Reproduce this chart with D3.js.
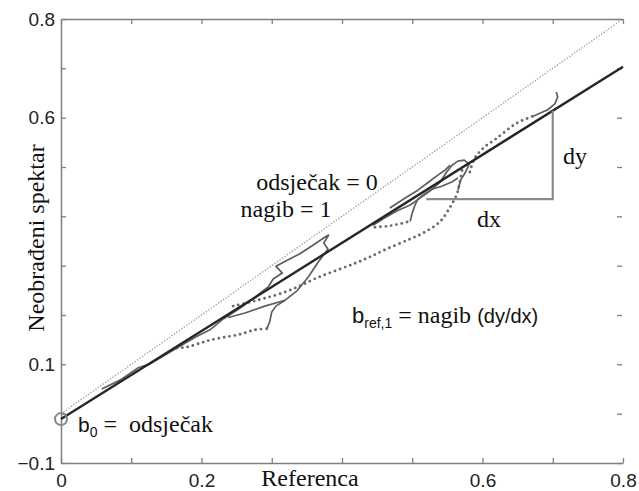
<!DOCTYPE html>
<html>
<head>
<meta charset="utf-8">
<script src="https://cdn.jsdelivr.net/npm/d3@7"></script>
<style>
  body { margin: 0; background: #fff; }
  svg { display: block; }
</style>
</head>
<body>
<div id="chart"></div>
<script>
const W = 639, H = 491;

// regression fit shown on the plot
const fitIntercept = -0.011;
const fitSlope = 0.893;

const xTickValues = [0, 0.1, 0.2, 0.3, 0.4, 0.5, 0.6, 0.7, 0.8];
const xLabelValues = [0, 0.2, 0.6, 0.8];
const yTickValues = [-0.1, 0, 0.1, 0.2, 0.3, 0.4, 0.5, 0.6, 0.7, 0.8];
const yLabelValues = [-0.1, 0.1, 0.6, 0.8];

// raw spectrum vs reference, solid pieces
const solidLower = [[0.058,0.050],[0.084,0.068],[0.110,0.093],[0.127,0.101],[0.148,0.119],[0.165,0.133],[0.191,0.155],[0.212,0.170],[0.231,0.192]];
const solidLoop = [[0.231,0.192],[0.255,0.214],[0.276,0.236],[0.295,0.257],[0.302,0.273],[0.315,0.285],[0.306,0.299],[0.322,0.311],[0.340,0.324],[0.357,0.340],[0.376,0.358],[0.381,0.362],[0.374,0.346],[0.380,0.334],[0.366,0.307],[0.352,0.277],[0.336,0.249],[0.319,0.230],[0.290,0.218],[0.262,0.204],[0.238,0.195]];
const solidTail = [[0.319,0.230],[0.306,0.218],[0.300,0.206],[0.297,0.186],[0.293,0.172]];
const solidUpperA = [[0.444,0.382],[0.461,0.397],[0.478,0.411],[0.497,0.423],[0.511,0.437],[0.525,0.451],[0.540,0.470],[0.549,0.490],[0.557,0.504],[0.565,0.512],[0.574,0.514],[0.581,0.506],[0.576,0.490],[0.569,0.474],[0.565,0.453]];
const solidUpperB = [[0.497,0.390],[0.500,0.407],[0.504,0.423],[0.508,0.435],[0.517,0.445],[0.528,0.455],[0.542,0.461],[0.557,0.470],[0.565,0.478]];
const solidUpperC = [[0.468,0.417],[0.490,0.437],[0.508,0.453],[0.522,0.468],[0.535,0.482],[0.547,0.494],[0.554,0.504]];
const solidEnd = [[0.672,0.603],[0.693,0.616],[0.703,0.628],[0.707,0.642],[0.705,0.652]];

// dotted pieces
const dottedLower = [[0.165,0.133],[0.179,0.135],[0.198,0.143],[0.212,0.149],[0.233,0.155],[0.255,0.161],[0.276,0.170],[0.293,0.172]];
const dottedMid = [[0.245,0.218],[0.269,0.226],[0.290,0.234],[0.316,0.245],[0.340,0.259],[0.364,0.275],[0.393,0.291],[0.419,0.305],[0.440,0.318],[0.464,0.334],[0.497,0.354],[0.518,0.368],[0.540,0.390],[0.554,0.419],[0.564,0.447],[0.568,0.472],[0.571,0.494]];
const dottedShort = [[0.447,0.378],[0.464,0.380],[0.480,0.384],[0.497,0.390]];
const dottedUpper = [[0.582,0.490],[0.589,0.518],[0.601,0.538],[0.621,0.559],[0.649,0.589],[0.672,0.603]];

const svg = d3.select("#chart").append("svg")
  .attr("width", W).attr("height", H);

const x = d3.scaleLinear().domain([0, 0.8]).range([61, 623]);
const y = d3.scaleLinear().domain([-0.1, 0.8]).range([463, 19]);

const axisCol = "#808080";
const fmt = d3.format("~g");
const hasLabel = (list, d) => list.some(v => Math.abs(v - d) < 1e-9);

function styleAxis(g) {
  g.selectAll("path.domain").attr("stroke", axisCol).attr("stroke-width", 1.5);
  g.selectAll(".tick line").attr("stroke", axisCol).attr("stroke-width", 1.3);
  g.selectAll(".tick text")
    .attr("fill", "#222")
    .attr("font-family", "'Liberation Sans', Arial, sans-serif")
    .attr("font-size", 19);
}

svg.append("g")
  .attr("transform", `translate(0,${y(-0.1)})`)
  .call(d3.axisBottom(x).tickValues(xTickValues).tickSizeInner(-5).tickSizeOuter(0).tickPadding(11)
    .tickFormat(d => hasLabel(xLabelValues, d) ? fmt(d) : ""))
  .call(styleAxis);

svg.append("g")
  .attr("transform", `translate(0,${y(0.8)})`)
  .call(d3.axisTop(x).tickValues(xTickValues).tickSizeInner(-5).tickSizeOuter(0).tickFormat(""))
  .call(styleAxis);

svg.append("g")
  .attr("transform", `translate(${x(0)},0)`)
  .call(d3.axisLeft(y).tickValues(yTickValues).tickSizeInner(-5).tickSizeOuter(0).tickPadding(6)
    .tickFormat(d => hasLabel(yLabelValues, d) ? fmt(d) : ""))
  .call(styleAxis);

const right = svg.append("g")
  .attr("transform", `translate(${x(0.8) - 1},0)`)
  .call(d3.axisRight(y).tickValues(yTickValues).tickSizeInner(-5).tickSizeOuter(0).tickFormat(""))
  .call(styleAxis);
right.select("path.domain").remove();

// y = x reference line
svg.append("line")
  .attr("x1", x(0)).attr("y1", y(0))
  .attr("x2", x(0.8)).attr("y2", y(0.8))
  .attr("stroke", "#999")
  .attr("stroke-width", 1.3)
  .attr("stroke-dasharray", "1.3,1.7");

const line = d3.line().x(d => x(d[0])).y(d => y(d[1]));
const smooth = d3.line().x(d => x(d[0])).y(d => y(d[1])).curve(d3.curveCatmullRom);

[dottedLower, dottedMid, dottedShort, dottedUpper].forEach(seg => {
  svg.append("path")
    .attr("d", smooth(seg))
    .attr("fill", "none")
    .attr("stroke", "#6a6a6a")
    .attr("stroke-width", 2.9)
    .attr("stroke-linecap", "round")
    .attr("stroke-dasharray", "0,5.4");
});

[solidLower, solidLoop, solidTail, solidUpperA, solidUpperB, solidUpperC, solidEnd].forEach(seg => {
  svg.append("path")
    .attr("d", line(seg))
    .attr("fill", "none")
    .attr("stroke", "#5e5e5e")
    .attr("stroke-width", 1.7)
    .attr("stroke-linejoin", "round");
});

// fitted line
svg.append("line")
  .attr("x1", x(0)).attr("y1", y(fitIntercept))
  .attr("x2", x(0.8)).attr("y2", y(fitIntercept + fitSlope * 0.8))
  .attr("stroke", "#262626")
  .attr("stroke-width", 2.4);

// slope triangle
const triY = 0.435, triX0 = 0.52, triX1 = 0.70;
svg.append("path")
  .attr("d", d3.line()([[x(triX0), y(triY)], [x(triX1), y(triY)], [x(triX1), y(fitIntercept + fitSlope * triX1)]]))
  .attr("fill", "none")
  .attr("stroke", "#8a8a8a")
  .attr("stroke-width", 2.2);

// intercept marker
svg.append("circle")
  .attr("cx", x(0)).attr("cy", y(fitIntercept))
  .attr("r", 6)
  .attr("fill", "none")
  .attr("stroke", "#888")
  .attr("stroke-width", 2);

const serif = "'Liberation Serif', 'Times New Roman', serif";
const sans = "'Liberation Sans', Arial, sans-serif";

function label(txt, px, py, size, anchor) {
  return svg.append("text")
    .text(txt)
    .attr("x", px).attr("y", py)
    .attr("font-family", serif)
    .attr("font-size", size)
    .attr("fill", "#111")
    .attr("text-anchor", anchor || "start");
}

label("Referenca", 310, 486, 24, "middle");
svg.append("text")
  .text("Neobrađeni spektar")
  .attr("transform", "translate(44,238) rotate(-90)")
  .attr("text-anchor", "middle")
  .attr("font-family", serif)
  .attr("font-size", 24)
  .attr("fill", "#111");

label("odsječak = 0", 317, 190, 24, "middle");
label("nagib = 1", 286, 217, 24, "middle");
label("dy", 563, 164, 24);
label("dx", 477, 227, 24);

// b_ref,1 = nagib (dy/dx)
const t1 = svg.append("text").attr("x", 352).attr("y", 323).attr("fill", "#111");
t1.append("tspan").text("b").attr("font-family", sans).attr("font-size", 22);
t1.append("tspan").text("ref,1").attr("font-family", sans).attr("font-size", 14).attr("dy", 5);
t1.append("tspan").text(" = nagib ").attr("font-family", serif).attr("font-size", 24).attr("dy", -5);
t1.append("tspan").text("(dy/dx)").attr("font-family", sans).attr("font-size", 20);

// b0 = odsječak
const t2 = svg.append("text").attr("x", 78).attr("y", 432).attr("fill", "#111");
t2.append("tspan").text("b").attr("font-family", sans).attr("font-size", 21);
t2.append("tspan").text("0").attr("font-family", sans).attr("font-size", 14).attr("dy", 5);
t2.append("tspan").text(" =\u00a0 odsječak").attr("font-family", serif).attr("font-size", 24).attr("dy", -5);
</script>
</body>
</html>
